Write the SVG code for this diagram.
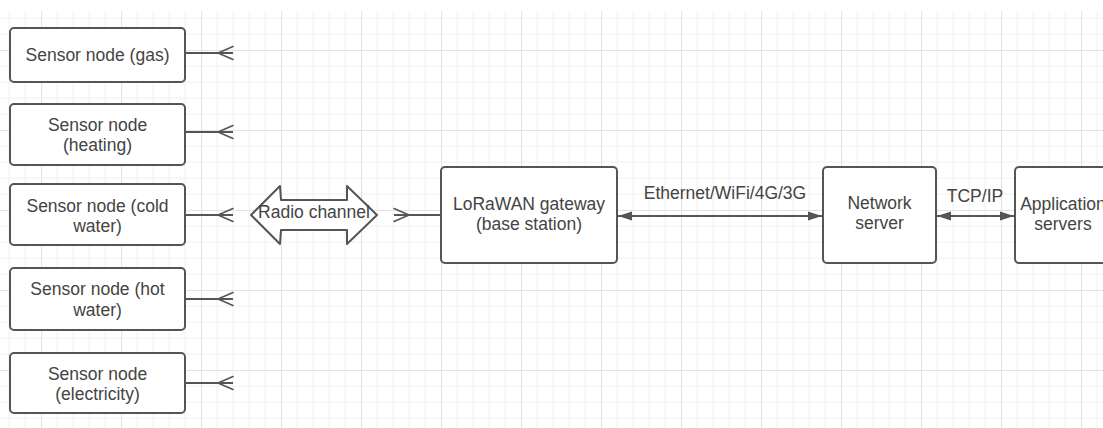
<svg xmlns="http://www.w3.org/2000/svg" width="1103" height="428" viewBox="0 0 1103 428">
  <style>
    .box { fill: #ffffff; stroke: #555555; stroke-width: 2; }
    .t { font-family: "Liberation Sans", Arial, sans-serif; font-size: 17.5px; fill: #444444; text-anchor: middle; }
    .lbl { font-family: "Liberation Sans", Arial, sans-serif; font-size: 17.5px; fill: #444444; text-anchor: middle; }
    .ln { stroke: #555555; stroke-width: 2; fill: none; }
    .open { stroke: #555555; stroke-width: 1.6; fill: none; stroke-linecap: round; stroke-linejoin: round; }
  </style>
  <defs>
    <pattern id="grid" x="41" y="50" width="80" height="80" patternUnits="userSpaceOnUse">
      <path d="M16 0V80M32 0V80M48 0V80M64 0V80M0 16H80M0 32H80M0 48H80M0 64H80" stroke="#f0f0f0" stroke-width="1" fill="none"/>
      <path d="M0.5 0V80M0 0.5H80" stroke="#e3e3e3" stroke-width="1.2" fill="none"/>
    </pattern>
    <marker id="fa" viewBox="0 0 14 10" refX="14" refY="5" markerWidth="14" markerHeight="10" markerUnits="userSpaceOnUse" orient="auto-start-reverse">
      <path d="M0 0.5L14 5L0 9.5Z" fill="#555555"/>
    </marker>
  </defs>
  <rect x="0" y="0" width="1103" height="428" fill="#ffffff"/>
  <rect x="0" y="11" width="1103" height="417" fill="url(#grid)"/>

  <g id="connectors">
    <line class="ln" x1="185" y1="53" x2="233" y2="53"/>
    <path class="open" d="M233 46.5L218 53L233 59.5"/>
    <line class="ln" x1="185" y1="132" x2="233" y2="132"/>
    <path class="open" d="M233 125.5L218 132L233 138.5"/>
    <line class="ln" x1="185" y1="215" x2="233" y2="215"/>
    <path class="open" d="M233 208.5L218 215L233 221.5"/>
    <line class="ln" x1="185" y1="299" x2="233" y2="299"/>
    <path class="open" d="M233 292.5L218 299L233 305.5"/>
    <line class="ln" x1="185" y1="383" x2="233" y2="383"/>
    <path class="open" d="M233 376.5L218 383L233 389.5"/>

    <line class="ln" x1="394" y1="215" x2="441" y2="215"/>
    <path class="open" d="M394 208.5L409 215L394 221.5"/>

    <line class="ln" x1="618" y1="216" x2="822" y2="216" marker-start="url(#fa)" marker-end="url(#fa)"/>
    <text class="lbl" x="725" y="199">Ethernet/WiFi/4G/3G</text>
    <line class="ln" x1="937" y1="216" x2="1014" y2="216" marker-start="url(#fa)" marker-end="url(#fa)"/>
    <text class="lbl" x="975" y="202">TCP/IP</text>
  </g>

  <g id="sensor-gas">
    <rect class="box" x="10" y="28" width="175" height="54" rx="4"/>
    <text class="t" x="97.5" y="61">Sensor node (gas)</text>
  </g>
  <g id="sensor-heating">
    <rect class="box" x="10" y="104" width="175" height="61" rx="4"/>
    <text class="t" x="97.5" y="131">Sensor node</text>
    <text class="t" x="97.5" y="151">(heating)</text>
  </g>
  <g id="sensor-cold-water">
    <rect class="box" x="10" y="184" width="175" height="61" rx="4"/>
    <text class="t" x="97.5" y="212">Sensor node (cold</text>
    <text class="t" x="97.5" y="232">water)</text>
  </g>
  <g id="sensor-hot-water">
    <rect class="box" x="10" y="268" width="175" height="62" rx="4"/>
    <text class="t" x="97.5" y="295">Sensor node (hot</text>
    <text class="t" x="97.5" y="316">water)</text>
  </g>
  <g id="sensor-electricity">
    <rect class="box" x="10" y="353" width="175" height="60" rx="4"/>
    <text class="t" x="97.5" y="380">Sensor node</text>
    <text class="t" x="97.5" y="400">(electricity)</text>
  </g>

  <g id="radio-channel">
    <path class="box" stroke-linejoin="round" d="M251 215L280 186L281 200L347 200L347 186L377 215L347 244L347 230L281 230L280 244Z"/>
    <text class="lbl" x="314" y="218">Radio channel</text>
  </g>

  <g id="gateway">
    <rect class="box" x="441" y="167" width="176" height="96" rx="4"/>
    <text class="t" x="529" y="209.5">LoRaWAN gateway</text>
    <text class="t" x="529" y="230">(base station)</text>
  </g>

  <g id="network-server">
    <rect class="box" x="823" y="167" width="113" height="96" rx="4"/>
    <text class="t" x="879.5" y="208.5">Network</text>
    <text class="t" x="879.5" y="229">server</text>
  </g>

  <g id="application-servers">
    <rect class="box" x="1015" y="167" width="96" height="96" rx="4"/>
    <text class="t" x="1063" y="209.5">Application</text>
    <text class="t" x="1063" y="230">servers</text>
  </g>
</svg>
